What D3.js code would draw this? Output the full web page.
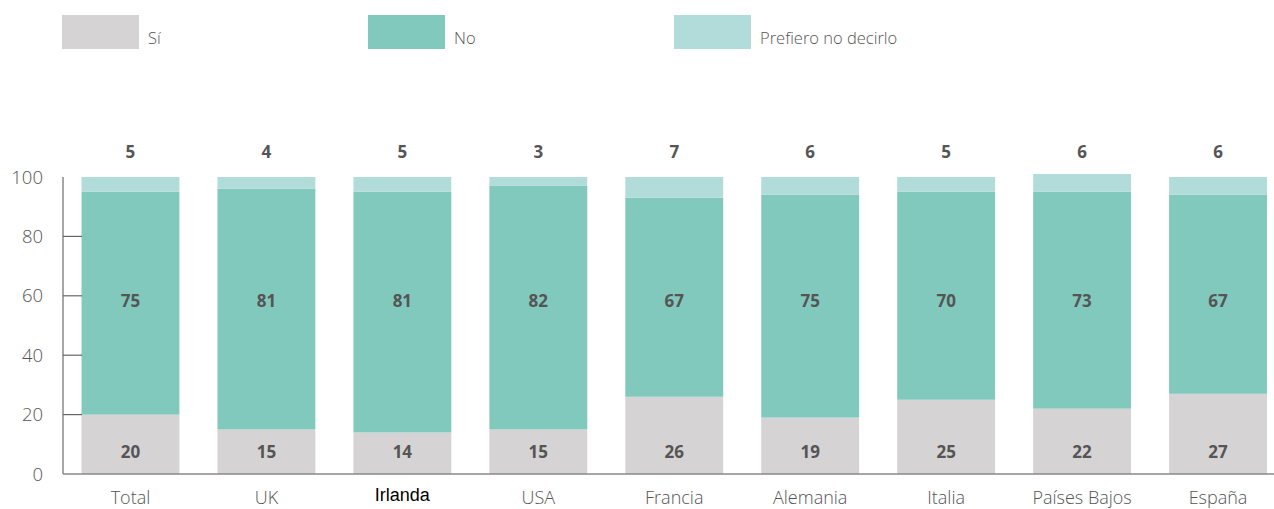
<!DOCTYPE html>
<html lang="es">
<head>
<meta charset="utf-8">
<title>Encuesta por país</title>
<script src="https://cdn.jsdelivr.net/npm/d3@7"></script>
<style>
  body { margin: 0; background: #fff; }
  text { font-family: "Open Sans", "DejaVu Sans", sans-serif; }
</style>
</head>
<body>
<script>
// data
var paises = ["Total", "UK", "Irlanda", "USA", "Francia", "Alemania", "Italia", "Países Bajos", "España"];
var si = [20, 15, 14, 15, 26, 19, 25, 22, 27];
var no = [75, 81, 81, 82, 67, 75, 70, 73, 67];
var prefiero = [5, 4, 5, 3, 7, 6, 5, 6, 6];
var series = ["Sí", "No", "Prefiero no decirlo"];
var colores = ["#d5d3d4", "#82c9bd", "#b2dcd9"];
var yTicks = [0, 20, 40, 60, 80, 100];

var w = 1274, h = 509;

var svg = d3.select("body").append("svg")
    .attr("width", w)
    .attr("height", h);

var rows = paises.map(function(p, i) {
  return { pais: p, "Sí": si[i], "No": no[i], "Prefiero no decirlo": prefiero[i] };
});

var xScale = d3.scaleBand()
    .domain(paises)
    .range([62.5, 1286])
    .paddingInner(0.28)
    .paddingOuter(0.14);

var yScale = d3.scaleLinear()
    .domain([0, 100])
    .range([474, 177]);

var stack = d3.stack().keys(series)(rows);

// bars
svg.selectAll("g.serie")
    .data(stack)
  .enter().append("g")
    .attr("class", "serie")
    .attr("fill", function(d, i) { return colores[i]; })
  .selectAll("rect")
    .data(function(d) { return d; })
  .enter().append("rect")
    .attr("x", function(d) { return xScale(d.data.pais); })
    .attr("width", xScale.bandwidth())
    .attr("y", function(d) { return yScale(d[1]); })
    .attr("height", function(d) { return yScale(d[0]) - yScale(d[1]); });

// y axis
svg.append("line")
    .attr("x1", 63).attr("x2", 63)
    .attr("y1", yScale(100)).attr("y2", yScale(0))
    .attr("stroke", "#777").attr("stroke-width", 1.3);

svg.selectAll("line.tick")
    .data(yTicks.filter(function(t) { return t > 0 && t < 100; }))
  .enter().append("line")
    .attr("class", "tick")
    .attr("x1", 63).attr("x2", 82)
    .attr("y1", function(d) { return yScale(d); })
    .attr("y2", function(d) { return yScale(d); })
    .attr("stroke", "#666").attr("stroke-width", 1.2);

svg.selectAll("text.ytick")
    .data(yTicks)
  .enter().append("text")
    .attr("class", "ytick")
    .attr("x", 43)
    .attr("y", function(d) { return yScale(d) + 6.5; })
    .attr("text-anchor", "end")
    .attr("fill", "#555")
    .style("font-size", "18.5px")
    .style("font-weight", 300)
    .text(function(d) { return d; });

// x axis
svg.append("line")
    .attr("x1", 63).attr("x2", w)
    .attr("y1", yScale(0)).attr("y2", yScale(0))
    .attr("stroke", "#888").attr("stroke-width", 1.5);

svg.selectAll("text.xtick")
    .data(paises)
  .enter().append("text")
    .attr("class", "xtick")
    .attr("x", function(d) { return xScale(d) + xScale.bandwidth() / 2; })
    .attr("y", function(d) { return d == "Irlanda" ? 501 : 504; })
    .attr("text-anchor", "middle")
    .attr("fill", function(d) { return d == "Irlanda" ? "#000" : "#555"; })
    .style("font-family", function(d) { return d == "Irlanda" ? "'Liberation Sans', Arial, sans-serif" : null; })
    .style("font-size", function(d) { return d == "Irlanda" ? "18px" : "18px"; })
    .style("font-weight", function(d) { return d == "Irlanda" ? 400 : 300; })
    .text(function(d) { return d; });

// value labels
function etiquetas(vals, yv, cls) {
  svg.selectAll("text." + cls)
      .data(vals)
    .enter().append("text")
      .attr("class", cls)
      .attr("x", function(d, i) { return xScale(paises[i]) + xScale.bandwidth() / 2; })
      .attr("y", yScale(yv))
      .attr("dy", "0.35em")
      .attr("text-anchor", "middle")
      .attr("fill", "#555")
      .style("font-size", "17px")
      .style("font-weight", 700)
      .text(function(d) { return d; });
}
etiquetas(si, 7.4, "lsi");
etiquetas(no, 58.3, "lno");
etiquetas(prefiero, 108.4, "lpref");

// legend
var legX = [62, 368, 674];
var leg = svg.selectAll("g.leg")
    .data(series)
  .enter().append("g")
    .attr("class", "leg")
    .attr("transform", function(d, i) { return "translate(" + legX[i] + ",15)"; });

leg.append("rect")
    .attr("width", 77).attr("height", 34)
    .attr("fill", function(d, i) { return colores[i]; });

leg.append("text")
    .attr("x", 86).attr("y", 29)
    .attr("fill", "#555")
    .style("font-size", "16.5px")
    .style("font-weight", 300)
    .text(function(d) { return d; });
</script>
</body>
</html>
